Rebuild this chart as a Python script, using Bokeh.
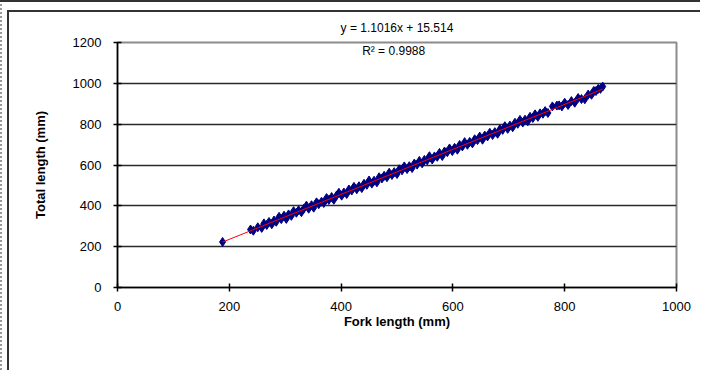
from bokeh.plotting import figure
from bokeh.models import Range1d, FixedTicker, Label
from bokeh.embed import file_html
from bokeh.resources import INLINE

# Fork length (mm) and total length (mm)
fork_length = [188, 238, 243, 251, 258, 262, 267, 271, 276, 280, 284, 289, 293, 298, 302,
               306, 311, 315, 320, 324, 329, 333, 338, 342, 347, 351, 356, 360, 365, 369,
               374, 378, 383, 387, 392, 396, 401, 405, 410, 414, 419, 423, 428, 432, 437,
               441, 446, 450, 455, 459, 464, 468, 473, 477, 482, 486, 491, 495, 500, 504,
               509, 513, 518, 522, 527, 531, 536, 540, 545, 549, 554, 558, 563, 567, 572,
               576, 581, 585, 590, 594, 599, 603, 608, 612, 617, 621, 626, 630, 635, 639,
               644, 648, 653, 657, 662, 666, 671, 675, 680, 684, 689, 693, 698, 702, 707,
               711, 716, 720, 725, 729, 734, 738, 743, 747, 752, 756, 761, 765, 770, 778,
               786, 790, 795, 800, 806, 812, 818, 824, 830, 836, 842, 848, 852, 856, 860,
               864, 868]
total_length = [223, 284, 278, 295, 292, 314, 306, 321, 310, 328, 322, 346, 335, 352, 336,
                358, 351, 374, 366, 378, 369, 385, 401, 386, 403, 391, 417, 408, 420, 414,
                438, 429, 443, 430, 451, 464, 450, 465, 458, 480, 475, 493, 481, 496, 487,
                508, 503, 524, 509, 523, 515, 540, 534, 547, 540, 562, 551, 565, 556, 579,
                574, 593, 580, 594, 585, 607, 602, 620, 608, 625, 623, 643, 627, 642, 640,
                659, 644, 666, 663, 681, 668, 684, 675, 698, 691, 712, 699, 713, 706, 726,
                722, 739, 724, 744, 740, 758, 747, 761, 753, 775, 772, 790, 777, 793, 785,
                807, 802, 821, 808, 822, 814, 836, 830, 848, 836, 853, 851, 864, 855, 887,
                891, 892, 887, 905, 894, 913, 905, 928, 923, 922, 945, 944, 963, 962, 973,
                973, 984]

# Trendline as printed on the chart
slope = 1.1016
intercept = 15.514
r_squared = "0.9988"

x_ticks = [0, 200, 400, 600, 800, 1000]
y_ticks = [0, 200, 400, 600, 800, 1000, 1200]

FONT = "Liberation Sans"

p = figure(width=700, height=370, output_backend="svg", toolbar_location=None,
           x_range=Range1d(0, 1000), y_range=Range1d(0, 1200),
           min_border_left=117, min_border_right=24, min_border_top=42, min_border_bottom=83,
           title="y = %.4fx + %.3f" % (slope, intercept))
# chart-area frame lines drawn as the host background (canvas border is transparent)
p.styles = {
    "background": ("linear-gradient(#333,#333) 0px 0px / 100% 2px no-repeat, "
                   "repeating-linear-gradient(#999 0px, #999 2px, transparent 2px, transparent 4px) "
                   "0px 0px / 2px 100% no-repeat, "
                   "linear-gradient(#333,#333) 7px 10px / 2px 100% no-repeat, "
                   "linear-gradient(#333,#333) 7px 10px / 100% 2px no-repeat, white"),
}
p.background_fill_color = "white"
p.border_fill_color = "white"
p.border_fill_alpha = 0
p.outline_line_color = "#8c8c8c"
p.outline_line_width = 2

p.title.align = "center"
p.title.text_font = FONT
p.title.text_font_size = "12px"
p.title.text_font_style = "normal"
p.title.text_color = "black"
p.title.standoff = 15

p.xgrid.grid_line_color = None
p.ygrid.grid_line_color = "#2a2a2a"
p.ygrid.grid_line_width = 1.6

for ax in (p.xaxis[0], p.yaxis[0]):
    ax.axis_line_color = "black"
    ax.axis_line_width = 1.5
    ax.major_tick_line_color = "black"
    ax.major_tick_line_width = 1.5
    ax.major_tick_in = 4
    ax.major_tick_out = 4
    ax.minor_tick_line_color = None
    ax.major_label_text_font = FONT
    ax.major_label_text_font_size = "13px"
    ax.major_label_text_color = "black"
    ax.axis_label_text_font = FONT
    ax.axis_label_text_font_size = "13px"
    ax.axis_label_text_font_style = "bold"
    ax.axis_label_text_color = "black"

p.xaxis.ticker = FixedTicker(ticks=x_ticks)
p.yaxis.ticker = FixedTicker(ticks=y_ticks)
p.xaxis.axis_label = "Fork length (mm)"
p.yaxis.axis_label = "Total length (mm)"
p.xaxis.major_label_standoff = 10
p.yaxis.major_label_standoff = 12
p.xaxis.axis_label_standoff = 0
p.yaxis.axis_label_standoff = 22

p.scatter(fork_length, total_length, marker="diamond", size=9,
          fill_color="#000080", line_color="#000080")

x0, x1 = min(fork_length), max(fork_length)
p.line([x0, x1], [slope * x0 + intercept, slope * x1 + intercept],
       line_color="red", line_width=1)

p.add_layout(Label(x=494, y=1157, text="R² = " + r_squared,
                   text_align="center", text_baseline="middle",
                   text_font=FONT, text_font_size="12px", text_color="black"))

open("out.html", "w").write(file_html(p, INLINE))
